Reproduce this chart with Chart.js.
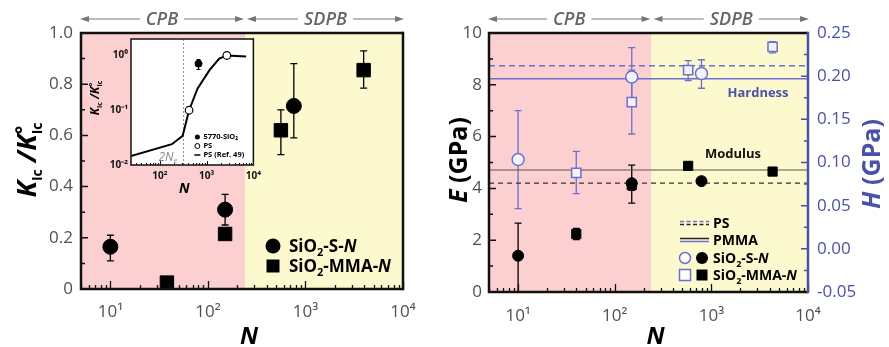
<!DOCTYPE html>
<html>
<head>
<meta charset="utf-8">
<script src="https://cdn.jsdelivr.net/npm/chart.js@4.4.0/dist/chart.umd.min.js"></script>
<style>
  body { margin: 0; background: #fff; }
  #wrap { position: relative; width: 889px; height: 347px; overflow: hidden; }
  canvas { position: absolute; top: 0; }
</style>
</head>
<body>
<div id="wrap">
  <canvas id="leftChart" width="445" height="347" style="left:0"></canvas>
  <canvas id="insetChart" width="186" height="172" style="left:80px;top:28px"></canvas>
  <canvas id="rightChart" width="444" height="347" style="left:445px"></canvas>
</div>
<script>
// ---- datos ----
const N_RANGE = [5, 10000];
const BOUNDARY_N = 240;          // limite CPB / SDPB
const X_TICKS = [10, 100, 1000, 10000];
const X_LABELS = ['10\u00b9', '10\u00b2', '10\u00b3', '10\u2074'];

// panel izquierdo: K_Ic / K°_Ic
const kS_N = [10, 150, 760];
const kS_val = [0.165, 0.31, 0.715];
const kS_lo = [0.11, 0.25, 0.59];
const kS_hi = [0.21, 0.37, 0.88];
const kM_N = [38, 150, 560, 3950];
const kM_val = [0.025, 0.215, 0.62, 0.855];
const kM_lo = [0.025, 0.215, 0.525, 0.785];
const kM_hi = [0.025, 0.215, 0.70, 0.93];

// inset
const inX_TICKS = [100, 1000, 10000];
const inX_LABELS = ['10\u00b2', '10\u00b3', '10\u2074'];
const inY_TICKS = [0.01, 0.1, 1];
const inY_LABELS = ['10\u207b\u00b2', '10\u207b\u00b9', '10\u2070'];
const inCurveN = [24, 180, 306, 420, 640, 1150, 1860, 2700, 7000];
const inCurveV = [0.0146, 0.024, 0.034, 0.1, 0.25, 0.54, 0.88, 1.0, 0.96];
const inPsN = [420, 2700];
const inPsV = [0.1, 1.0];
const inSiN = [670];
const inSiV = [0.71];
const inSiLo = [0.556];
const inSiHi = [0.845];
const NE2 = 320;

// panel derecho: E y H
const hS_N = [10, 150, 790];
const hS_val = [0.1035, 0.199, 0.203];
const hS_lo = [0.0465, 0.167, 0.186];
const hS_hi = [0.160, 0.233, 0.219];
const hM_N = [40, 150, 575, 4300];
const hM_val = [0.088, 0.17, 0.207, 0.234];
const hM_lo = [0.064, 0.133, 0.195, 0.227];
const hM_hi = [0.113, 0.207, 0.218, 0.240];
const eS_N = [10, 150, 790];
const eS_val = [1.4, 4.2, 4.28];
const eS_lo = [0, 3.43, 4.18];
const eS_hi = [2.66, 4.9, 4.38];
const eM_N = [40, 150, 575, 4300];
const eM_val = [2.24, 4.13, 4.87, 4.65];
const eM_lo = [2.02, 3.92, 4.87, 4.5];
const eM_hi = [2.46, 4.36, 4.87, 4.8];
const E_PS = 4.2, E_PMMA = 4.71;
const H_PS = 0.212, H_PMMA = 0.197;

// ---- estilos ----
const FONT = "'Open Sans', 'Liberation Sans', sans-serif";
const PINK = '#fcd0d0';
const YELLOW = '#fdf9cf';
const BLUE = '#4a51a6';
const BLUE_L = '#6d6fcf';
const TICK_TXT = '#505050';

function pts(ns, vs) { return ns.map((n, i) => ({ x: n, y: vs[i] })); }

// texto con sub/superindices: parts = [texto, fuente, dy, sinAvance]
function richText(ctx, parts, x, y, opt = {}) {
  ctx.save();
  ctx.translate(x, y);
  ctx.rotate(opt.angle || 0);
  ctx.fillStyle = opt.color || '#000';
  ctx.textBaseline = 'alphabetic';
  ctx.textAlign = 'left';
  let w = 0;
  const ws = parts.map(p => { ctx.font = p[1]; const m = ctx.measureText(p[0]).width; if (!p[3]) w += m; return m; });
  let cx = opt.align === 'left' ? 0 : -w / 2;
  parts.forEach((p, i) => { ctx.font = p[1]; ctx.fillText(p[0], cx, p[2] || 0); if (!p[3]) cx += ws[i]; });
  ctx.restore();
}

function sioParts(tail, size) {
  const sub = Math.round(size * 0.62);
  return [['SiO', `bold ${size}px ${FONT}`, 0], ['2', `bold ${sub}px ${FONT}`, size * 0.25],
          [tail, `bold ${size}px ${FONT}`, 0], ['N', `italic bold ${size}px ${FONT}`, 0]];
}

function drawBands(chart) {
  const { ctx, chartArea: a, scales: { x } } = chart;
  const xb = x.getPixelForValue(BOUNDARY_N);
  ctx.save();
  ctx.fillStyle = PINK; ctx.fillRect(a.left, a.top, xb - a.left, a.bottom - a.top);
  ctx.fillStyle = YELLOW; ctx.fillRect(xb, a.top, a.right - xb, a.bottom - a.top);
  ctx.restore();
}

function drawErrorBars(chart, cap) {
  const ctx = chart.ctx;
  chart.data.datasets.forEach(ds => {
    if (!ds.errLo) return;
    const ys = chart.scales[ds.yAxisID || 'y'];
    const xs = chart.scales.x;
    ctx.save();
    ctx.strokeStyle = ds.errColor || '#000';
    ctx.lineWidth = ds.errWidth || 1.3;
    ds.data.forEach((p, j) => {
      const px = xs.getPixelForValue(p.x);
      const lo = ys.getPixelForValue(ds.errLo[j]);
      const hi = ys.getPixelForValue(ds.errHi[j]);
      if (Math.abs(lo - hi) < 1) return;
      ctx.beginPath();
      ctx.moveTo(px, lo); ctx.lineTo(px, hi);
      ctx.moveTo(px - cap, lo); ctx.lineTo(px + cap, lo);
      ctx.moveTo(px - cap, hi); ctx.lineTo(px + cap, hi);
      ctx.stroke();
    });
    ctx.restore();
  });
}

function drawFrame(chart, lw, rightColor) {
  const { ctx, chartArea: a } = chart;
  ctx.save();
  ctx.lineWidth = lw;
  ctx.strokeStyle = '#111';
  ctx.beginPath();
  ctx.moveTo(a.right, a.top); ctx.lineTo(a.left, a.top); ctx.lineTo(a.left, a.bottom); ctx.lineTo(a.right, a.bottom);
  ctx.stroke();
  ctx.strokeStyle = rightColor || '#111';
  ctx.beginPath(); ctx.moveTo(a.right, a.top - lw / 2); ctx.lineTo(a.right, a.bottom + lw / 2); ctx.stroke();
  ctx.restore();
}

// marcas hacia dentro en el eje x logaritmico
function drawLogXTicks(chart, major, minor, lw) {
  const { ctx, chartArea: a, scales: { x } } = chart;
  ctx.save(); ctx.strokeStyle = '#111'; ctx.lineWidth = lw;
  ctx.beginPath();
  for (let d = 0; d <= 4; d++) {
    for (let k = 1; k <= 9; k++) {
      const v = k * Math.pow(10, d);
      if (v < x.min || v > x.max) continue;
      const px = Math.round(x.getPixelForValue(v)) + 0.5;
      ctx.moveTo(px, a.bottom); ctx.lineTo(px, a.bottom - (k === 1 ? major : minor));
    }
  }
  ctx.stroke(); ctx.restore();
}

// marcas hacia dentro en un eje y lineal (mayores + intermedias)
function drawYTicks(chart, id, side, color, major, minor) {
  const { ctx, chartArea: a } = chart;
  const ys = chart.scales[id];
  const x0 = side === 'left' ? a.left : a.right;
  const dir = side === 'left' ? 1 : -1;
  const vals = ys.ticks.map(t => t.value);
  ctx.save(); ctx.strokeStyle = color; ctx.lineWidth = 1.5;
  ctx.beginPath();
  vals.forEach((v, i) => {
    const py = ys.getPixelForValue(v);
    ctx.moveTo(x0, py); ctx.lineTo(x0 + dir * major, py);
    if (i < vals.length - 1) {
      const pm = ys.getPixelForValue((v + vals[i + 1]) / 2);
      ctx.moveTo(x0, pm); ctx.lineTo(x0 + dir * minor, pm);
    }
  });
  ctx.stroke(); ctx.restore();
}

function arrowSeg(ctx, x1, x2, y, label) {
  ctx.save();
  ctx.font = `italic 600 18px ${FONT}`;
  const w = ctx.measureText(label).width;
  const mid = (x1 + x2) / 2;
  ctx.strokeStyle = '#777'; ctx.fillStyle = '#777'; ctx.lineWidth = 1.2;
  ctx.beginPath();
  ctx.moveTo(x1 + 4, y); ctx.lineTo(mid - w / 2 - 6, y);
  ctx.moveTo(mid + w / 2 + 6, y); ctx.lineTo(x2 - 4, y);
  ctx.stroke();
  ctx.beginPath();
  ctx.moveTo(x1, y); ctx.lineTo(x1 + 9, y - 3); ctx.lineTo(x1 + 9, y + 3); ctx.closePath();
  ctx.moveTo(x2, y); ctx.lineTo(x2 - 9, y - 3); ctx.lineTo(x2 - 9, y + 3); ctx.closePath();
  ctx.fill();
  ctx.fillStyle = '#666'; ctx.textAlign = 'center'; ctx.textBaseline = 'middle';
  ctx.fillText(label, mid, y + 1);
  ctx.restore();
}

function drawPhaseArrows(chart) {
  const { ctx, chartArea: a, scales: { x } } = chart;
  const xb = x.getPixelForValue(BOUNDARY_N);
  arrowSeg(ctx, a.left - 1, xb - 1, 19, 'CPB');
  arrowSeg(ctx, xb + 2, a.right + 1, 19, 'SDPB');
}

function drawMarker(ctx, style, x, y, size, fill, stroke, lw) {
  ctx.save();
  ctx.fillStyle = fill; ctx.strokeStyle = stroke; ctx.lineWidth = lw || 1.3;
  ctx.beginPath();
  if (style === 'circle') ctx.arc(x, y, size / 2, 0, Math.PI * 2);
  else ctx.rect(x - size / 2, y - size / 2, size, size);
  ctx.fill(); if (lw) ctx.stroke();
  ctx.restore();
}

function logX(range, ticks, labels, height, pad, font, color) {
  return {
    type: 'logarithmic', min: range[0], max: range[1],
    afterBuildTicks: s => { s.ticks = ticks.map(v => ({ value: v })); },
    ticks: { callback: v => labels[ticks.indexOf(v)] || '', font, color, padding: pad, maxRotation: 0, autoSkip: false },
    grid: { display: false, drawTicks: false }, border: { display: false },
    afterFit: s => { s.height = height; }
  };
}

const tickFont = { family: FONT, size: 17 };

// ---- panel izquierdo ----
const leftDecor = {
  id: 'leftDecor',
  beforeDatasetsDraw(chart) { drawBands(chart); drawErrorBars(chart, 3.5); },
  afterDraw(chart) {
    const ctx = chart.ctx, a = chart.chartArea;
    drawLogXTicks(chart, 8, 4, 1.3);
    drawYTicks(chart, 'y', 'left', '#111', 7, 4);
    drawFrame(chart, 2.5);
    drawPhaseArrows(chart);
    // leyenda
    drawMarker(ctx, 'circle', 273, 246, 15, '#000');
    richText(ctx, sioParts('-S-', 17), 289, 252, { align: 'left' });
    drawMarker(ctx, 'rect', 273, 266, 13, '#000');
    richText(ctx, sioParts('-MMA-', 17), 289, 272, { align: 'left' });
    // titulos
    richText(ctx, [['N', `italic bold 24px ${FONT}`, 0]], (a.left + a.right) / 2 + 7, 344);
    richText(ctx, [
      ['K', `italic bold 27px ${FONT}`, 0], ['Ic', `bold 14px ${FONT}`, 6],
      [' /K', `italic bold 27px ${FONT}`, 0], ['\u00b0', `bold 20px ${FONT}`, -6, true],
      ['Ic', `bold 14px ${FONT}`, 6]
    ], 36, 160, { angle: -Math.PI / 2 });
  }
};

new Chart(document.getElementById('leftChart'), {
  type: 'scatter',
  data: {
    datasets: [
      { data: pts(kS_N, kS_val), errLo: kS_lo, errHi: kS_hi, pointStyle: 'circle', pointRadius: 7.5,
        backgroundColor: '#000', borderColor: '#000', clip: false },
      { data: pts(kM_N, kM_val), errLo: kM_lo, errHi: kM_hi, pointStyle: 'rect', pointRadius: 9.5,
        backgroundColor: '#000', borderColor: '#000', clip: false }
    ]
  },
  options: {
    responsive: false, animation: false, devicePixelRatio: 1,
    layout: { padding: { top: 33, right: 42, left: 0, bottom: 0 } },
    plugins: { legend: { display: false }, tooltip: { enabled: false } },
    scales: {
      x: logX(N_RANGE, X_TICKS, X_LABELS, 58, 13, tickFont, TICK_TXT),
      y: {
        min: 0, max: 1,
        ticks: { stepSize: 0.2, callback: v => v === 0 ? '0' : v.toFixed(1), font: tickFont, color: TICK_TXT, padding: 8 },
        grid: { display: false, drawTicks: false }, border: { display: false },
        afterFit: s => { s.width = 81; }
      }
    }
  },
  plugins: [leftDecor]
});

// ---- inset ----
const insetDecor = {
  id: 'insetDecor',
  beforeDatasetsDraw(chart) {
    const { ctx, chartArea: a, scales: { x } } = chart;
    ctx.save();
    ctx.fillStyle = '#fff'; ctx.fillRect(a.left, a.top, a.right - a.left, a.bottom - a.top);
    const px = x.getPixelForValue(NE2);
    ctx.strokeStyle = '#888'; ctx.lineWidth = 1; ctx.setLineDash([2, 2]);
    ctx.beginPath(); ctx.moveTo(px, a.top); ctx.lineTo(px, a.bottom); ctx.stroke();
    ctx.setLineDash([]);
    ctx.fillStyle = '#888'; ctx.font = `italic 12px ${FONT}`; ctx.textAlign = 'right';
    ctx.fillText('2N', px - 10, a.bottom - 4);
    ctx.font = `italic 8px ${FONT}`; ctx.textAlign = 'left';
    ctx.fillText('e', px - 10, a.bottom - 2);
    ctx.restore();
    drawErrorBars(chart, 2);
  },
  afterDraw(chart) {
    const ctx = chart.ctx, a = chart.chartArea;
    drawLogXTicks(chart, 4, 2, 1);
    drawFrame(chart, 1.5);
    // leyenda
    const lx = a.right - 56;
    drawMarker(ctx, 'circle', lx, a.bottom - 28, 5, '#000');
    drawMarker(ctx, 'circle', lx, a.bottom - 19, 5, '#fff', '#000', 1);
    ctx.save(); ctx.strokeStyle = '#000'; ctx.lineWidth = 1.5;
    ctx.beginPath(); ctx.moveTo(lx - 3, a.bottom - 10); ctx.lineTo(lx + 3, a.bottom - 10); ctx.stroke();
    ctx.restore();
    ctx.save(); ctx.fillStyle = '#000'; ctx.font = `bold 7.5px ${FONT}`; ctx.textBaseline = 'middle';
    ctx.fillText('5770-SiO\u2082', lx + 6, a.bottom - 28);
    ctx.fillText('PS', lx + 6, a.bottom - 19);
    ctx.fillText('PS (Ref. 49)', lx + 6, a.bottom - 10);
    ctx.restore();
    richText(ctx, [['N', `italic bold 14px ${FONT}`, 0]], (a.left + a.right) / 2 - 8, 165);
    richText(ctx, [
      ['K', `italic bold 12px ${FONT}`, 0], ['Ic', `bold 7px ${FONT}`, 3],
      [' /K', `italic bold 12px ${FONT}`, 0], ['\u00b0', `bold 9px ${FONT}`, -4, true],
      ['Ic', `bold 7px ${FONT}`, 3]
    ], 19, (a.top + a.bottom) / 2 - 4, { angle: -Math.PI / 2 });
  }
};

const inFont = { family: FONT, size: 10, weight: 'bold' };
new Chart(document.getElementById('insetChart'), {
  type: 'scatter',
  data: {
    datasets: [
      { data: pts(inSiN, inSiV), errLo: inSiLo, errHi: inSiHi, errWidth: 1, pointStyle: 'circle', pointRadius: 3.5,
        backgroundColor: '#000', borderColor: '#000' },
      { data: pts(inPsN, inPsV), pointStyle: 'circle', pointRadius: 3.8, backgroundColor: '#fff',
        borderColor: '#000', borderWidth: 1.2, clip: false },
      { data: pts(inCurveN, inCurveV), showLine: true, borderColor: '#000', borderWidth: 2, pointRadius: 0, tension: 0 }
    ]
  },
  options: {
    responsive: false, animation: false, devicePixelRatio: 1,
    layout: { padding: { top: 11, right: 12, left: 0, bottom: 0 } },
    plugins: { legend: { display: false }, tooltip: { enabled: false } },
    scales: {
      x: logX([24, 10000], inX_TICKS, inX_LABELS, 35, 5, inFont, '#111'),
      y: {
        type: 'logarithmic', min: 0.01, max: 2,
        afterBuildTicks: s => { s.ticks = inY_TICKS.map(v => ({ value: v })); },
        ticks: { callback: v => inY_LABELS[inY_TICKS.indexOf(v)] || '', font: inFont, color: '#111', padding: 3 },
        grid: { display: false, drawTicks: false }, border: { display: false },
        afterFit: s => { s.width = 51; }
      }
    }
  },
  plugins: [insetDecor]
});

// ---- panel derecho ----
const rightDecor = {
  id: 'rightDecor',
  beforeDatasetsDraw(chart) { drawBands(chart); drawErrorBars(chart, 3.5); },
  afterDraw(chart) {
    const ctx = chart.ctx, a = chart.chartArea;
    drawLogXTicks(chart, 8, 4, 1.3);
    drawYTicks(chart, 'y', 'left', '#111', 7, 4);
    drawYTicks(chart, 'y2', 'right', BLUE, 7, 4);
    drawFrame(chart, 2.5, BLUE);
    drawPhaseArrows(chart);
    // etiquetas
    richText(ctx, [['Hardness', `bold 13px ${FONT}`, 0]], 313, 97, { color: BLUE });
    richText(ctx, [['Modulus', `bold 13px ${FONT}`, 0]], 288, 158, { color: '#111' });
    // leyenda
    ctx.save();
    ctx.lineWidth = 1.5;
    ctx.setLineDash([4, 2.5]);
    ctx.strokeStyle = BLUE_L; ctx.beginPath(); ctx.moveTo(235, 221.5); ctx.lineTo(264, 221.5); ctx.stroke();
    ctx.strokeStyle = '#222'; ctx.beginPath(); ctx.moveTo(235, 224.5); ctx.lineTo(264, 224.5); ctx.stroke();
    ctx.setLineDash([]);
    ctx.strokeStyle = '#222'; ctx.beginPath(); ctx.moveTo(235, 238.5); ctx.lineTo(264, 238.5); ctx.stroke();
    ctx.strokeStyle = BLUE_L; ctx.beginPath(); ctx.moveTo(235, 241.5); ctx.lineTo(264, 241.5); ctx.stroke();
    ctx.restore();
    drawMarker(ctx, 'circle', 240, 258, 11, '#fff', BLUE_L, 1.5);
    drawMarker(ctx, 'circle', 257, 258, 12, '#000');
    drawMarker(ctx, 'rect', 240, 275, 11, '#fff', BLUE_L, 1.5);
    drawMarker(ctx, 'rect', 257, 275, 11, '#000');
    const f = `bold 14px ${FONT}`;
    richText(ctx, [['PS', f, 0]], 268, 228, { align: 'left' });
    richText(ctx, [['PMMA', f, 0]], 268, 245, { align: 'left' });
    richText(ctx, sioParts('-S-', 14), 268, 263, { align: 'left' });
    richText(ctx, sioParts('-MMA-', 14), 268, 280, { align: 'left' });
    // titulos
    richText(ctx, [['N', `italic bold 24px ${FONT}`, 0]], (a.left + a.right) / 2 + 7, 344);
    richText(ctx, [['E', `italic bold 25px ${FONT}`, 0], [' (GPa)', `bold 25px ${FONT}`, 0]],
      22, 160, { angle: -Math.PI / 2 });
    richText(ctx, [['H', `italic bold 25px ${FONT}`, 0], [' (GPa)', `bold 25px ${FONT}`, 0]],
      435, 164, { angle: -Math.PI / 2, color: BLUE });
  }
};

function hLine(val, axis, color, dash, width) {
  return { data: pts(N_RANGE, [val, val]), yAxisID: axis, showLine: true, borderColor: color,
           borderDash: dash, borderWidth: width, pointRadius: 0 };
}

new Chart(document.getElementById('rightChart'), {
  type: 'scatter',
  data: {
    datasets: [
      { data: pts(hS_N, hS_val), yAxisID: 'y2', errLo: hS_lo, errHi: hS_hi, errColor: BLUE_L, pointStyle: 'circle',
        pointRadius: 6, backgroundColor: '#f3f3fb', borderColor: BLUE_L, borderWidth: 1.5, clip: false },
      { data: pts(hM_N, hM_val), yAxisID: 'y2', errLo: hM_lo, errHi: hM_hi, errColor: BLUE_L, pointStyle: 'rect',
        pointRadius: 6.5, backgroundColor: '#f3f3fb', borderColor: BLUE_L, borderWidth: 1.5, clip: false },
      { data: pts(eS_N, eS_val), yAxisID: 'y', errLo: eS_lo, errHi: eS_hi, pointStyle: 'circle',
        pointRadius: 5.5, backgroundColor: '#000', borderColor: '#000', clip: false },
      { data: pts(eM_N, eM_val), yAxisID: 'y', errLo: eM_lo, errHi: eM_hi, pointStyle: 'rect',
        pointRadius: 6.5, backgroundColor: '#000', borderColor: '#000', clip: false },
      hLine(H_PS, 'y2', BLUE_L, [6, 4], 1.6),
      hLine(H_PMMA, 'y2', BLUE_L, [], 1.6),
      hLine(E_PS, 'y', '#333', [5, 4], 1.3),
      hLine(E_PMMA, 'y', '#555', [], 1.2)
    ]
  },
  options: {
    responsive: false, animation: false, devicePixelRatio: 1,
    layout: { padding: { top: 33, right: 0, left: 0, bottom: 0 } },
    plugins: { legend: { display: false }, tooltip: { enabled: false } },
    scales: {
      x: logX(N_RANGE, X_TICKS, X_LABELS, 55, 14, tickFont, TICK_TXT),
      y: {
        position: 'left', min: 0, max: 10,
        ticks: { stepSize: 2, font: tickFont, color: TICK_TXT, padding: 7 },
        grid: { display: false, drawTicks: false }, border: { display: false },
        afterFit: s => { s.width = 44; }
      },
      y2: {
        position: 'right', min: -0.05, max: 0.25,
        ticks: { stepSize: 0.05, callback: v => (Math.abs(v) < 1e-9 ? 0 : v).toFixed(2), font: tickFont, color: BLUE, padding: 9 },
        grid: { display: false, drawTicks: false }, border: { display: false },
        afterFit: s => { s.width = 81; }
      }
    }
  },
  plugins: [rightDecor]
});
</script>
</body>
</html>
